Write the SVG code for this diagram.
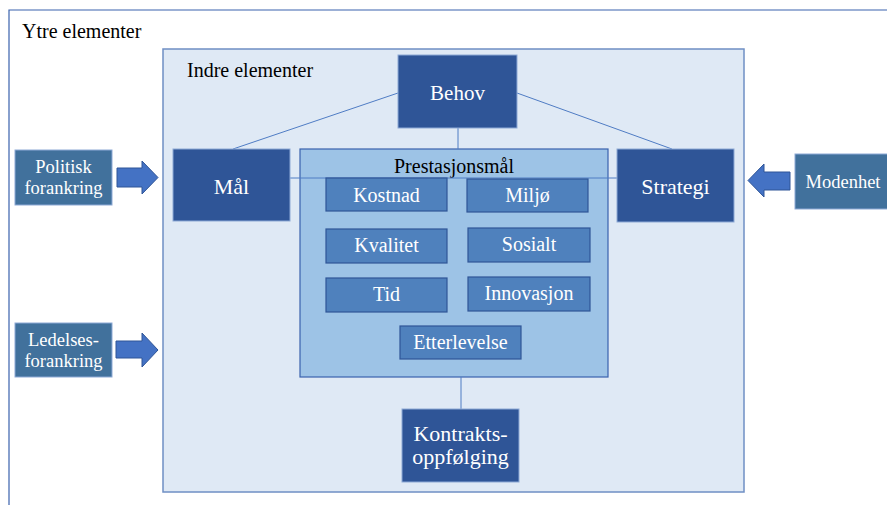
<svg xmlns="http://www.w3.org/2000/svg" width="887" height="505" viewBox="0 0 887 505" font-family="'Liberation Serif', 'DejaVu Serif', serif">
  <style>
    text { font-family: 'Liberation Serif', 'DejaVu Serif', serif; text-anchor: middle; }
    .frame-outer { fill: #ffffff; stroke: #3a62ad; stroke-width: 1.2; }
    .frame-inner { fill: #dfe9f5; stroke: #6f8fc4; stroke-width: 1.5; }
    .core { fill: #2f5597; stroke: #8eaad6; stroke-width: 1; }
    .group { fill: #9dc3e6; stroke: #3a62ad; stroke-width: 1.2; }
    .goal { fill: #4f81bd; stroke: #2f5597; stroke-width: 1.2; }
    .ext { fill: #41719c; stroke: #8eaad6; stroke-width: 1; }
    .arrow { fill: #4472c4; stroke: #2f5597; stroke-width: 1; }
    .link { stroke: #4f7cc4; stroke-width: 1; fill: none; }
    .lbl { fill: #ffffff; }
    .title { fill: #000000; text-anchor: start; font-size: 20px; }
    .big { font-size: 22px; }
    .mid { font-size: 20px; }
    .small { font-size: 18.5px; }
  </style>

  <!-- outer frame -->
  <g id="ytre">
    <path class="frame-outer" d="M9 505 V10 H887"/>
    <text class="title" x="22" y="38">Ytre elementer</text>
  </g>

  <!-- inner frame -->
  <g id="indre">
    <rect class="frame-inner" x="163" y="49" width="581" height="443"/>
    <text class="title" x="187" y="77">Indre elementer</text>
  </g>

  <!-- performance goals container -->
  <g id="prestasjonsmal">
    <rect class="group" x="300" y="149" width="308" height="228"/>
    <text x="454" y="173" font-size="20px" fill="#000">Prestasjonsmål</text>
  </g>

  <!-- connectors -->
  <g id="connectors">
    <line class="link" x1="398" y1="93" x2="233" y2="149"/>
    <line class="link" x1="517" y1="93" x2="672" y2="149"/>
    <line class="link" x1="458" y1="128" x2="458" y2="149"/>
    <line class="link" x1="290" y1="178" x2="617" y2="178"/>
    <line class="link" x1="461" y1="377" x2="461" y2="409" stroke="#9bb3da"/>
  </g>

  <g id="behov">
    <rect class="core" x="398" y="55" width="119" height="73"/>
    <text class="lbl" x="457.5" y="100" font-size="21px">Behov</text>
  </g>
  <g id="mal">
    <rect class="core" x="173" y="149" width="117" height="72"/>
    <text class="lbl big" x="231.5" y="194">Mål</text>
  </g>
  <g id="strategi">
    <rect class="core" x="617" y="149" width="117" height="73"/>
    <text class="lbl big" x="675.5" y="194">Strategi</text>
  </g>
  <g id="kontraktsoppfolging">
    <rect class="core" x="402" y="409" width="117" height="73"/>
    <text class="lbl big" x="460.5" y="441">Kontrakts-</text>
    <text class="lbl big" x="460.5" y="464">oppfølging</text>
  </g>

  <g id="kostnad">
    <rect class="goal" x="326" y="178" width="121" height="33"/>
    <text class="lbl mid" x="386.5" y="202">Kostnad</text>
  </g>
  <g id="miljo">
    <rect class="goal" x="467" y="179" width="121" height="33"/>
    <text class="lbl mid" x="527.5" y="202">Miljø</text>
  </g>
  <g id="kvalitet">
    <rect class="goal" x="326" y="229" width="121" height="34"/>
    <text class="lbl mid" x="386.5" y="252">Kvalitet</text>
  </g>
  <g id="sosialt">
    <rect class="goal" x="468" y="228" width="122" height="34"/>
    <text class="lbl mid" x="529" y="251">Sosialt</text>
  </g>
  <g id="tid">
    <rect class="goal" x="326" y="278" width="121" height="34"/>
    <text class="lbl mid" x="386.5" y="301">Tid</text>
  </g>
  <g id="innovasjon">
    <rect class="goal" x="468" y="277" width="122" height="34"/>
    <text class="lbl mid" x="529" y="300">Innovasjon</text>
  </g>
  <g id="etterlevelse">
    <rect class="goal" x="400" y="326" width="121" height="33"/>
    <text class="lbl mid" x="460.5" y="349">Etterlevelse</text>
  </g>

  <!-- external drivers -->
  <g id="politisk">
    <rect class="ext" x="15" y="150" width="97" height="55"/>
    <text class="lbl small" x="63.5" y="173">Politisk</text>
    <text class="lbl small" x="63.5" y="194">forankring</text>
    <path class="arrow" d="M117 168 H142 V161 L158 177.5 L142 194 V187 H117 Z"/>
  </g>
  <g id="ledelse">
    <rect class="ext" x="15" y="323" width="97" height="54"/>
    <text class="lbl small" x="63.5" y="346">Ledelses-</text>
    <text class="lbl small" x="63.5" y="367">forankring</text>
    <path class="arrow" d="M116 341 H142 V333 L158 350 L142 367 V358 H116 Z"/>
  </g>
  <g id="modenhet">
    <rect class="ext" x="795" y="154" width="95" height="55"/>
    <text class="lbl small" x="843" y="188">Modenhet</text>
    <path class="arrow" d="M790 172 H764 V164 L748 180.5 L764 197 V190 H790 Z"/>
  </g>
</svg>
